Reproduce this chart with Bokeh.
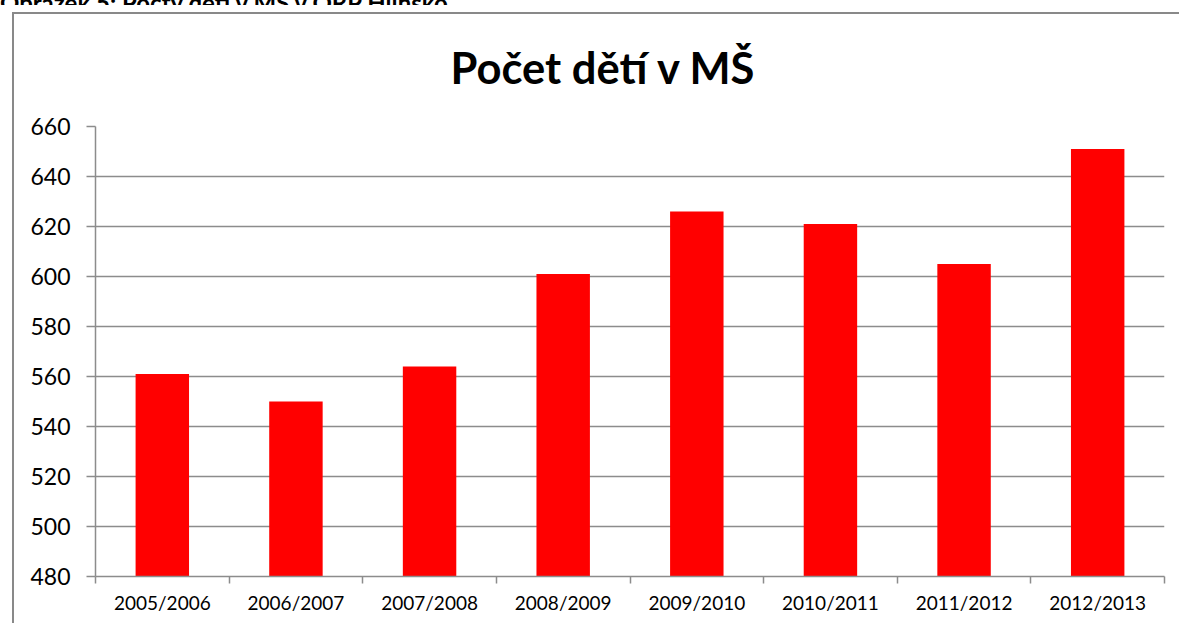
import numpy as np
from bokeh.plotting import figure
from bokeh.layouts import column
from bokeh.models import Range1d, FixedTicker, Div
from bokeh.embed import file_html
from bokeh.resources import INLINE

caption_text = "Obrázek 5: Počty dětí v MŠ v ORP Hlinsko"
title_text = "Počet dětí v MŠ"
years = ["2005/2006", "2006/2007", "2007/2008", "2008/2009",
         "2009/2010", "2010/2011", "2011/2012", "2012/2013"]
children = [561, 550, 564, 601, 626, 621, 605, 651]
y_ticks = [480, 500, 520, 540, 560, 580, 600, 620, 640, 660]

FONT = "Lato"
GRAY = "#8c8c8c"
BORDER = "#898989"

W = 1179
CAP_H = 5                      # visible slice of the (cropped) caption line
H = 623 - CAP_H
FL, FR, FT, FB = 95, 1164, 124 - CAP_H, 576 - CAP_H  # frame edges inside figure

caption = Div(text=f'<div style="margin-top:-16px; line-height:24px; font-family:Lato; '
                   f'font-weight:bold; font-size:24px; color:black; white-space:nowrap;">'
                   f'{caption_text}</div>',
              width=W, height=CAP_H, margin=0, styles={"overflow": "hidden"})

p = figure(width=W, height=H, output_backend="svg", toolbar_location=None,
           x_range=Range1d(0, len(years)), y_range=Range1d(min(y_ticks), max(y_ticks)),
           min_border_left=FL, min_border_right=W - FR,
           min_border_top=FT, min_border_bottom=H - FB, margin=0)
p.outline_line_color = None
p.background_fill_color = "white"
p.border_fill_alpha = 0   # let the host background (chart-area border) show through

# chart area border: only its left and top edges are inside the view
bt = 12 - CAP_H
p.styles = {
    "background": (f"linear-gradient({BORDER},{BORDER}) 12px {bt}px / 2px 100% no-repeat, "
                   f"linear-gradient({BORDER},{BORDER}) 12px {bt}px / 100% 2px no-repeat, white"),
}

p.title.text = title_text
p.title.align = "left"
p.title.offset = 450 - FL
p.title.text_font = FONT
p.title.text_font_style = "bold"
p.title.text_font_size = "43.5px"
p.title.text_color = "black"
p.title.standoff = 67

xs = np.arange(len(years)) + 0.5
p.vbar(x=xs, top=children, bottom=min(y_ticks), width=0.4,
       fill_color="#ff0000", line_color=None)

# x axis
p.xaxis.ticker = FixedTicker(ticks=list(xs), minor_ticks=list(range(len(years) + 1)))
p.xaxis.major_label_overrides = {float(x): y for x, y in zip(xs, years)}
p.xaxis.major_tick_out = 0
p.xaxis.major_tick_in = 0
p.xaxis.minor_tick_out = 7
p.xaxis.minor_tick_in = 0
p.xaxis.minor_tick_line_color = GRAY
p.xaxis.minor_tick_line_width = 1.5
p.xaxis.axis_line_color = GRAY
p.xaxis.axis_line_width = 1.5
p.xaxis.major_label_text_font = FONT
p.xaxis.major_label_text_font_size = "19px"
p.xaxis.major_label_text_color = "black"
p.xaxis.major_label_standoff = 7
p.xgrid.grid_line_color = None

# y axis
p.yaxis.ticker = FixedTicker(ticks=y_ticks)
p.yaxis.major_tick_out = 9
p.yaxis.major_tick_in = 0
p.yaxis.minor_tick_line_color = None
p.yaxis.major_tick_line_color = GRAY
p.yaxis.major_tick_line_width = 1.5
p.yaxis.axis_line_color = GRAY
p.yaxis.axis_line_width = 1.5
p.yaxis.major_label_text_font = FONT
p.yaxis.major_label_text_font_size = "23px"
p.yaxis.major_label_text_color = "black"
p.yaxis.major_label_standoff = 16
p.ygrid.grid_line_color = GRAY
p.ygrid.grid_line_width = 1.5

layout = column(caption, p, spacing=0, margin=0)
open("out.html", "w").write(file_html(layout, INLINE))
